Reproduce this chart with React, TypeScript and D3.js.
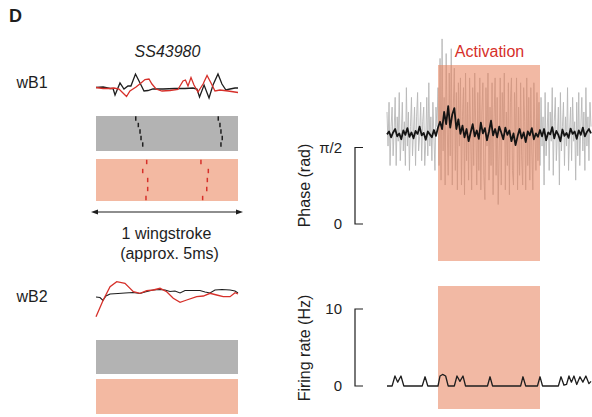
import React from "react";
import * as d3 from "d3";

// example wingstrokes, [phase within wingstroke (0-1), deflection (a.u.)]
const wb1Ctrl: [number, number][] = [
  [0, 0.5], [0.05, 1], [0.1, -0.5], [0.12, -0.5], [0.134, -7], [0.169, 5], [0.197, -1],
  [0.225, 2], [0.246, 2], [0.278, 14], [0.31, 5], [0.338, -3], [0.366, -2.5], [0.401, -1],
  [0.472, -1], [0.556, -0.5], [0.627, -0.5], [0.683, 0], [0.711, -1], [0.729, -9], [0.761, 3],
  [0.796, -10], [0.824, 3], [0.859, 14], [0.887, 4], [0.915, -2], [0.944, -1], [0.979, 0], [1, 0],
];
const wb1Act: [number, number][] = [
  [0, 0.5], [0.05, -0.5], [0.1, -0.5], [0.127, 0], [0.162, -1], [0.19, -5], [0.215, -8.5],
  [0.239, -3], [0.282, 1], [0.317, 5], [0.345, 8.5], [0.373, 9], [0.394, 4], [0.423, -1],
  [0.465, -3], [0.521, -2.5], [0.577, -1.5], [0.613, 7], [0.63, 8], [0.648, 2], [0.669, 10.5],
  [0.69, 3], [0.718, -4], [0.754, 4], [0.782, 12.5], [0.81, 5], [0.838, -3], [0.873, -2],
  [0.93, -3], [1, -4.5],
];
const wb2Ctrl: [number, number][] = [
  [0, -5], [0.028, -5.5], [0.049, -8.5], [0.07, -4], [0.099, -2], [0.155, -1.5], [0.204, -1],
  [0.261, -0.5], [0.31, -1.5], [0.345, 0], [0.401, 2], [0.451, 2.5], [0.486, 2], [0.521, 0.5],
  [0.556, 1], [0.592, -1], [0.627, 1.5], [0.697, 1.5], [0.732, 1.5], [0.768, 0], [0.803, -1],
  [0.838, 2], [0.887, 2.5], [0.944, 2], [0.979, 1], [1, -1],
];
const wb2Act: [number, number][] = [
  [0, -24.7], [0.051, -8], [0.099, 5.3], [0.146, 10.3], [0.204, 8.7], [0.263, 0.3], [0.31, -1.3],
  [0.357, 1.3], [0.404, 2], [0.451, 3.7], [0.498, 0.3], [0.544, -6.3], [0.592, -10.3],
  [0.639, -8], [0.709, -4.7], [0.756, -4], [0.803, -1.3], [0.85, -3], [0.896, -4.7],
  [0.944, -4.7], [0.979, -0.7], [1, -2],
];

// wB1 spike phases, one row per wingstroke (two spikes per stroke)
const wb1SpikesCtrl = [[0.28, 0.861], [0.298, 0.873], [0.31, 0.88], [0.317, 0.889], [0.329, 0.88]];
const wb1SpikesAct = [[0.357, 0.739], [0.329, 0.791], [0.364, 0.784], [0.364, 0.78], [0.352, 0.751]];

// time course (s)
const timeRange = [0, 20];
const activationWindow = [5, 15];

// single-stroke phase (rad), sampled every 0.1 s
const phaseStep = 0.1;
const phaseRaw = [
  2.3, 1.6, 2.5, 1.2, 2.0, 2.4, 1.4, 1.9, 2.6, 1.2, 2.2, 1.7, 2.7, 1.3, 1.8, 2.5, 1.5, 2.1, 1.2, 2.8,
  1.6, 2.3, 1.1, 2.0, 2.6, 1.4, 1.9, 2.4, 1.2, 2.2, 2.7, 1.5, 1.8, 2.5, 1.3, 2.1, 2.4, 1.2, 1.7, 2.6,
  1.4, 2.9, 1.6, 2.2, 1.3, 2.5, 1.8, 1.1, 2.4, 2.0,
  2.8, 1.2, 3.4, 0.9, 3.8, 1.5, 2.6, 0.8, 3.5, 2.0, 1.0, 3.1, 1.4, 3.6, 0.8, 2.4, 3.2, 1.1, 2.7, 0.7,
  2.9, 1.6, 3.0, 0.8, 2.2, 2.8, 0.6, 3.1, 1.3, 2.5, 0.9, 3.0, 1.8, 0.7, 2.8, 1.2, 3.1, 2.0, 0.8, 2.7,
  1.1, 3.0, 0.7, 2.3, 2.9, 1.0, 0.5, 2.8, 1.6, 3.1, 0.9, 2.4, 1.2, 2.9, 0.6, 2.2, 3.0, 1.0, 2.6, 0.4,
  1.5, 3.0, 0.8, 2.7, 1.9, 3.1, 0.7, 2.3, 1.2, 2.9, 0.6, 2.5, 3.0, 1.1, 0.8, 2.7, 1.6, 3.0, 0.7, 2.4,
  1.0, 2.9, 1.4, 0.8, 2.8, 2.1, 0.7, 3.0, 1.2, 2.6, 0.9, 2.8, 1.5, 0.7, 2.9, 1.9, 1.1, 2.7, 1.3, 2.5,
  1.2, 2.6, 1.6, 2.2, 0.8, 2.7, 1.4, 1.9, 2.5, 1.1, 2.3, 1.7, 2.8, 1.0, 2.1, 2.6, 1.3, 1.8, 2.4, 0.8,
  2.7, 1.5, 2.0, 2.5, 1.2, 2.2, 1.6, 2.8, 1.1, 1.9, 2.4, 1.3, 2.6, 1.7, 2.1, 0.9, 2.5, 1.4, 2.7, 1.2,
  2.0, 2.6, 1.5, 2.3, 1.1, 2.8, 1.6, 2.2, 1.3, 2.5, 2.0,
];

// smoothed phase (rad), sampled every 0.2 s
const meanStep = 0.2;
const phaseMean = [
  1.84, 1.9, 1.78, 1.88, 1.95, 1.8, 1.86, 1.74, 1.92, 1.83, 1.97, 1.79, 1.88, 1.76, 1.91, 1.85,
  2.0, 1.82, 1.87, 1.73, 1.9, 1.84, 1.78, 1.93, 1.81, 1.98,
  2.1, 1.95, 2.3, 2.05, 2.42, 1.98, 2.25, 2.38, 1.95, 2.15,
  1.85, 2.02, 1.78, 1.95, 1.7, 1.88, 2.05, 1.8, 1.92, 1.75, 2.08, 1.86, 1.97, 1.72, 1.9, 2.12,
  1.82, 1.95, 1.78, 2.0,
  1.88, 1.74, 1.98, 1.83, 1.92, 1.7, 1.86, 1.62, 1.8, 1.95, 1.76, 1.88, 1.68, 1.9, 1.82, 1.97,
  1.74, 1.86, 1.79, 1.93,
  1.8, 1.95, 1.72, 1.88, 1.84, 1.99, 1.76, 1.91, 1.83, 1.7, 1.94, 1.81, 1.87, 1.77, 1.96, 1.85,
  1.9, 1.75, 1.92, 1.83, 1.98, 1.8, 1.89, 1.95, 1.86,
];

// firing rate (Hz), [time s, rate]
const firingRate: [number, number][] = [
  [0, 0], [0.5, 0], [0.78, 1.3], [1.05, 0.5], [1.37, 1.3], [1.65, 0],
  [3.45, 0], [3.73, 1.2], [4.0, 0],
  [5.0, 0], [5.2, 1.3], [5.45, 1.5], [5.75, 1.3], [6.0, 0],
  [6.6, 0], [6.86, 1.3], [7.15, 0.6], [7.45, 1.3], [7.7, 0],
  [9.85, 0], [10.1, 1.2], [10.35, 0],
  [13.1, 0], [13.33, 1.2], [13.6, 0],
  [14.75, 0], [15.0, 1.2], [15.25, 0],
  [16.8, 0], [17.06, 1.2], [17.35, 0.1], [17.6, 0.2], [17.84, 1.3], [18.08, 0.5], [18.33, 1.3],
  [18.6, 0.2], [18.92, 1.2], [19.2, 0.5], [19.5, 1.3], [19.8, 0.3], [20, 0.6],
];

const phaseTicks = [0, Math.PI / 2];
const phaseTickLabels = ["0", "π/2"];
const rateTicks = [0, 10];

const FONT = "'Liberation Sans', Arial, Helvetica, sans-serif";
const RED = "#d6302a";
const INK = "#1e1e1e";
const SALMON = "#f3b9a2";
const GRAY = "#b3b3b3";

const Raster = ({ rows, x, top, bottom, color }) => {
  const y = d3.scalePoint().domain(d3.range(rows.length).map(String)).range([top, bottom]);
  return (
    <g stroke={color} strokeWidth={1.5}>
      {rows.map((r, i) =>
        r.map((p, j) => (
          <line key={i + "-" + j} x1={x(p)} x2={x(p)} y1={y(String(i)) - 2.2} y2={y(String(i)) + 2.2} />
        ))
      )}
    </g>
  );
};

export default function App() {
  // left column: one wingstroke
  const xStroke = d3.scaleLinear().domain([0, 1]).range([96, 238]);
  const yWb1 = d3.scaleLinear().domain([-15, 15]).range([103, 73]);
  const yWb2 = d3.scaleLinear().domain([-15, 15]).range([307, 277]);
  const lineWb1 = d3.line<[number, number]>().x(d => xStroke(d[0])).y(d => yWb1(d[1]));
  const lineWb2 = d3.line<[number, number]>().x(d => xStroke(d[0])).y(d => yWb2(d[1]));

  // right column: time course
  const xTime = d3.scaleLinear().domain(timeRange).range([387, 591]);
  const yPhase = d3.scaleLinear().domain([0, Math.PI / 2]).range([224, 147.5]);
  const yRate = d3.scaleLinear().domain([0, 10]).range([386, 309]);

  const rawLine = d3.line<number>().x((_, i) => xTime(i * phaseStep)).y(d => yPhase(d));
  const meanLine = d3.line<number>().x((_, i) => xTime(i * meanStep)).y(d => yPhase(d));
  const rateLine = d3.line<[number, number]>().x(d => xTime(d[0])).y(d => yRate(d[1]));

  const actX = xTime(activationWindow[0]);
  const actW = xTime(activationWindow[1]) - actX;
  const bx = 355;

  return (
    <svg width={592} height={417} style={{ position: "absolute", left: 0, top: 0 }} fontFamily={FONT}>
      <rect width={592} height={417} fill="#fff" />
      <text x={9} y={21.5} fontSize={18} fontWeight="bold" fill={INK}>D</text>

      {/* left: example wingstrokes */}
      <text x={167.5} y={56.5} fontSize={16} fontStyle="italic" textAnchor="middle" fill={INK}>SS43980</text>
      <text x={16.5} y={87.5} fontSize={16} fill={INK}>wB1</text>
      <text x={16.5} y={302} fontSize={16} fill={INK}>wB2</text>

      <path d={lineWb1(wb1Ctrl)} fill="none" stroke={INK} strokeWidth={1.3} />
      <path d={lineWb1(wb1Act)} fill="none" stroke={RED} strokeWidth={1.3} />
      <path d={lineWb2(wb2Ctrl)} fill="none" stroke={INK} strokeWidth={1.1} />
      <path d={lineWb2(wb2Act)} fill="none" stroke={RED} strokeWidth={1.3} />

      <rect x={96} y={116} width={142} height={35} fill={GRAY} />
      <rect x={96} y={159} width={142} height={42} fill={SALMON} />
      <Raster rows={wb1SpikesCtrl} x={xStroke} top={118.5} bottom={144.5} color={INK} />
      <Raster rows={wb1SpikesAct} x={xStroke} top={162} bottom={198} color={RED} />

      <rect x={96} y={340} width={142} height={34} fill={GRAY} />
      <rect x={96} y={379} width={142} height={35} fill={SALMON} />

      <line x1={95} x2={239} y1={212} y2={212} stroke={INK} strokeWidth={1.2} />
      <path d="M91,212 L98,209.5 L98,214.5 Z" fill={INK} />
      <path d="M243,212 L236,209.5 L236,214.5 Z" fill={INK} />
      <text x={166.5} y={239} fontSize={16} textAnchor="middle" fill={INK}>1 wingstroke</text>
      <text x={169.5} y={258.5} fontSize={16} textAnchor="middle" fill={INK}>(approx. 5ms)</text>

      {/* right: phase over time */}
      <text x={489.5} y={57} fontSize={16} textAnchor="middle" fill={RED}>Activation</text>
      <path d={rawLine(phaseRaw)} fill="none" stroke="#b8b8b8" strokeWidth={0.9} />
      <rect x={actX} y={65} width={actW} height={196} fill="#e8805a" fillOpacity={0.55} />
      <path d={meanLine(phaseMean)} fill="none" stroke="#141414" strokeWidth={1.8} strokeLinejoin="round" />

      <path
        d={`M${bx + 8},${yPhase(phaseTicks[1])} H${bx} V${yPhase(phaseTicks[0])} H${bx + 8}`}
        fill="none" stroke={INK} strokeWidth={1.2}
      />
      {phaseTicks.map((t, i) => (
        <text key={t} x={342} y={yPhase(t) + 5} fontSize={15} textAnchor="end" fill={INK}>{phaseTickLabels[i]}</text>
      ))}
      <text transform="translate(310,185.5) rotate(-90)" fontSize={16} textAnchor="middle" fill={INK}>Phase (rad)</text>

      {/* right: firing rate */}
      <rect x={actX} y={286} width={actW} height={123} fill="#e8805a" fillOpacity={0.55} />
      <path d={rateLine(firingRate)} fill="none" stroke={INK} strokeWidth={1.3} strokeLinejoin="round" />
      <path
        d={`M${bx + 8},${yRate(rateTicks[1])} H${bx} V${yRate(rateTicks[0])} H${bx + 8}`}
        fill="none" stroke={INK} strokeWidth={1.2}
      />
      {rateTicks.map(t => (
        <text key={t} x={342} y={yRate(t) + 5} fontSize={15} textAnchor="end" fill={INK}>{t}</text>
      ))}
      <text transform="translate(310,348) rotate(-90)" fontSize={16} textAnchor="middle" fill={INK}>Firing rate (Hz)</text>
    </svg>
  );
}
